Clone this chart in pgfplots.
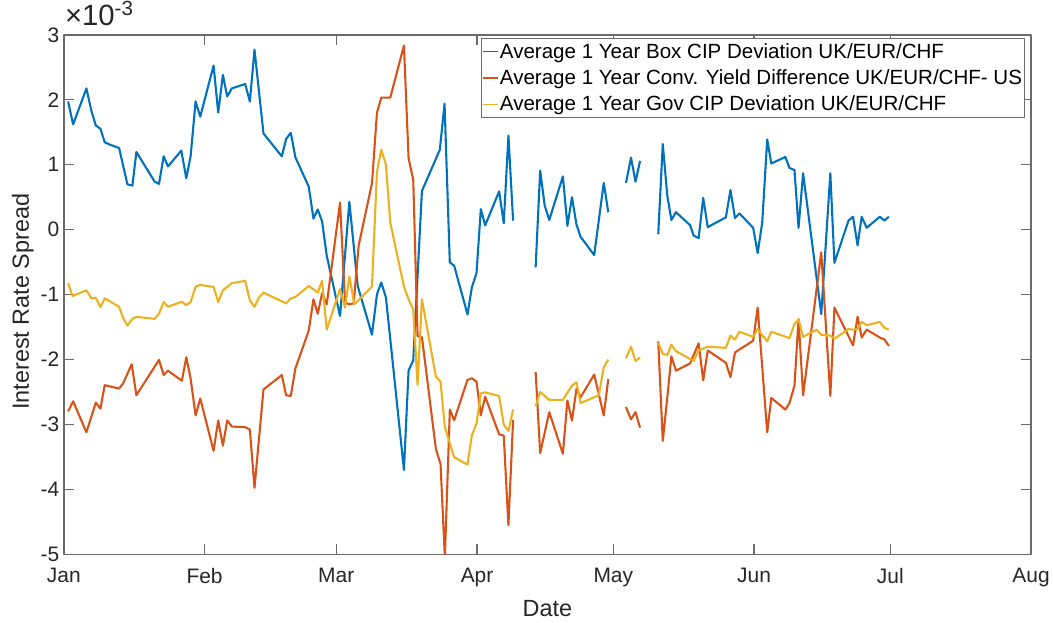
\documentclass[border=0pt]{standalone}
\usepackage{fontspec}
\setmainfont{Liberation Sans}
\usepackage{graphicx}
\usepackage{pgfplots}
\pgfplotsset{compat=1.18}
\definecolor{mblue}{rgb}{0,0.447,0.741}
\definecolor{mred}{rgb}{0.85,0.325,0.098}
\definecolor{myel}{rgb}{0.929,0.694,0.125}
\definecolor{axgray}{rgb}{0.42,0.42,0.42}
\begin{document}
\begin{tikzpicture}
\begin{axis}[name=ax, scale only axis, width=970pt, height=521pt,
  xmin=0, xmax=213, ymin=-5, ymax=3,
  xtick={0,31,60,91,121,152,182,213},
  xticklabels={Jan,Feb,Mar,Apr,May,Jun,Jul,Aug},
  ytick={-5,-4,-3,-2,-1,0,1,2,3},
  yticklabels={-5,-4,-3,-2,-1,0,1,2,3},
  tick label style={font=\fontsize{21}{21}\selectfont, text=black!85},
  yticklabel style={xshift=-1pt},
  xticklabel style={yshift=-10pt},
  major tick length=10pt,
  tick style={axgray, line width=1.2pt},
  axis line style={axgray, line width=1.4pt},
  xlabel={Date}, ylabel={Interest Rate Spread},
  label style={font=\fontsize{23.5}{23.5}\selectfont, text=black!85},
  xlabel style={at={(axis description cs:0.5,0)}, anchor=center, yshift=-54pt},
  ylabel style={at={(axis description cs:0,0.5)}, anchor=center, yshift=41pt, xshift=-7pt},
  title={\scalebox{1.4}{×10\textsuperscript{-3}}},
  title style={at={(axis description cs:0,1)}, anchor=base west, yshift=3pt, xshift=1pt, inner sep=0pt, font=\fontsize{21}{21}\selectfont, text=black!85},
  unbounded coords=jump,
  legend cell align=left,
  legend style={at={(1,1)}, anchor=north east, xshift=-6pt, yshift=-3pt,
    draw=axgray, line width=1pt, font=\fontsize{20.6}{20.6}\selectfont, text=black,
    nodes={inner xsep=1.5pt, inner ysep=2pt}, row sep=6pt, inner xsep=1pt, inner ysep=3pt},
  legend image code/.code={\draw[#1, line width=1.5pt] (0pt,0pt) -- (15pt,0pt);},
  line join=round,
]
\addplot[mblue, line width=2.1pt] coordinates {
(0.95,1.974)(2.05,1.622)(4.98,2.176)(6.08,1.829)(7.04,1.606)(8.06,1.554)(9.01,1.347)(10.11,1.311)(12.17,1.259)(14.0,0.699)(15.1,0.679)(15.98,1.197)(20.0,0.741)(20.96,0.705)(21.99,1.130)(22.94,0.974)(25.87,1.218)(26.97,0.793)(27.92,1.130)(29.02,1.974)(30.05,1.741)(32.98,2.528)(34.0,1.803)(35.03,2.383)(35.98,2.052)(37.0,2.176)(39.94,2.244)(40.97,1.974)(41.99,2.772)(43.97,1.482)(48.0,1.130)(48.96,1.399)(49.98,1.492)(51.0,1.114)(53.94,0.663)(54.97,0.171)(55.92,0.311)(56.87,0.129)(57.9,-0.40)(60.83,-1.33)(62.88,0.43)(64.71,-0.864)(67.86,-1.615)(68.96,-0.994)(69.91,-0.813)(70.94,-1.046)(74.9,-3.70)(75.92,-2.169)(76.95,-2.013)(78.86,0.595)(82.8,1.232)(83.84,1.941)(85.0,-0.502)(85.96,-0.554)(88.9,-1.304)(89.85,-0.890)(90.88,-0.668)(91.83,0.316)(92.79,0.067)(95.86,0.59)(96.88,0.1)(97.91,1.45)(98.94,0.14)
(101,nan)
(103.9,-0.58)(104.9,0.91)(105.9,0.37)(106.9,0.15)(109.9,0.82)(110.9,0.06)(111.9,0.5)(112.9,0.08)(113.8,-0.11)(116.8,-0.39)(118.9,0.72)(119.9,0.27)
(122,nan)
(123.8,0.72)(124.9,1.11)(125.9,0.74)(126.9,1.06)
(129,nan)
(130.9,-0.07)(131.9,1.32)(132.9,0.52)(133.8,0.15)(134.8,0.27)(137.9,0.07)(138.7,-0.09)(139.8,-0.13)(140.8,0.49)(141.8,0.04)(145.8,0.19)(146.8,0.61)(147.8,0.18)(148.8,0.25)(151.8,0.03)(152.8,-0.36)(153.8,0.11)(154.9,1.39)(155.8,1.02)(158.9,1.12)(159.8,0.95)(160.9,0.92)(161.8,0.03)(162.8,0.87)(166.8,-1.3)(168.8,0.87)(169.7,-0.51)(172.8,0.14)(173.8,0.2)(174.8,-0.24)(175.7,0.2)(176.8,0.03)(179.7,0.2)(180.7,0.14)(181.7,0.2)
};
\addlegendentry{Average 1 Year Box CIP Deviation UK/EUR/CHF}
\addplot[mred, line width=2.1pt] coordinates {
(0.95,-2.798)(2.05,-2.642)(4.98,-3.119)(7.04,-2.663)(8.06,-2.756)(9.01,-2.394)(12.17,-2.446)(13.05,-2.368)(14.95,-2.073)(15.98,-2.549)(20.96,-2.005)(21.99,-2.238)(22.94,-2.171)(26.0,-2.326)(26.97,-1.964)(27.92,-2.29)(29.02,-2.86)(30.05,-2.601)(32.98,-3.404)(34.0,-2.938)(35.03,-3.326)(35.98,-2.938)(37.0,-3.031)(39.94,-3.041)(40.97,-3.078)(41.99,-3.974)(43.97,-2.461)(48.0,-2.238)(48.96,-2.549)(49.98,-2.56)(51.0,-2.135)(53.94,-1.553)(54.97,-1.071)(55.92,-1.294)(56.87,-0.978)(57.9,-1.149)(60.83,0.419)(61.93,-1.123)(62.88,-1.149)(63.83,-1.134)(64.93,-0.243)(67.86,0.714)(68.96,1.801)(69.91,2.034)(71.89,2.034)(74.9,2.836)(75.92,1.102)(76.95,0.766)(77.9,-1.641)(78.86,-1.651)(81.93,-3.375)(82.96,-3.608)(83.91,-5.05)(85.01,-2.769)(85.96,-2.935)(88.89,-2.314)(89.85,-2.288)(90.88,-2.34)(91.83,-2.857)(92.79,-2.572)(95.86,-3.15)(96.88,-3.17)(97.91,-4.55)(98.94,-2.93)
(101,nan)
(103.9,-2.19)(104.9,-3.44)(106.9,-2.81)(109.9,-3.45)(110.9,-2.63)(111.9,-2.94)(112.9,-2.45)(113.8,-2.58)(116.8,-2.23)(118.9,-2.86)(119.9,-2.3)
(122,nan)
(123.8,-2.73)(124.9,-2.92)(125.9,-2.81)(126.9,-3.05)
(129,nan)
(130.9,-1.72)(131.9,-3.25)(132.9,-2.58)(133.8,-1.95)(134.8,-2.17)(137.9,-2.06)(139.8,-1.75)(140.8,-2.32)(141.8,-1.86)(145.8,-2.05)(146.8,-2.27)(147.8,-1.89)(151.8,-1.71)(152.8,-1.2)(154.9,-3.12)(155.8,-2.59)(158.9,-2.77)(159.8,-2.67)(160.9,-2.4)(161.8,-1.38)(162.8,-2.55)(166.8,-0.35)(168.8,-2.56)(169.7,-1.2)(173.8,-1.78)(174.8,-1.34)(175.7,-1.66)(176.8,-1.54)(179.7,-1.66)(180.7,-1.69)(181.7,-1.79)
};
\addlegendentry{Average 1 Year Conv. Yield Difference UK/EUR/CHF- US}
\addplot[myel, line width=2.1pt] coordinates {
(0.95,-0.824)(1.9,-1.021)(4.98,-0.933)(6.08,-1.057)(7.04,-1.047)(8.06,-1.192)(9.01,-1.057)(12.17,-1.187)(13.05,-1.358)(14.0,-1.477)(15.1,-1.373)(15.98,-1.342)(20.0,-1.373)(20.96,-1.295)(21.99,-1.114)(22.94,-1.187)(26.0,-1.109)(26.97,-1.161)(27.92,-1.114)(29.02,-0.876)(30.05,-0.85)(32.98,-0.881)(34.0,-1.114)(35.03,-0.933)(37.0,-0.824)(39.94,-0.788)(40.97,-1.088)(41.99,-1.187)(42.94,-1.047)(43.97,-0.969)(48.96,-1.135)(49.98,-1.057)(51.0,-1.036)(53.94,-0.865)(55.92,-0.968)(56.87,-0.787)(57.9,-1.537)(60.83,-0.916)(61.93,-1.201)(62.88,-0.719)(63.98,-1.149)(67.86,-0.875)(68.96,0.895)(69.91,1.232)(70.94,0.999)(71.89,0.109)(74.9,-0.875)(75.92,-1.071)(76.95,-1.227)(77.9,-2.391)(78.86,-1.071)(81.93,-2.262)(82.96,-2.34)(83.91,-3.038)(85.96,-3.504)(88.89,-3.618)(89.85,-3.168)(90.88,-2.986)(91.83,-2.521)(92.79,-2.505)(95.86,-2.56)(96.88,-3.0)(97.91,-3.1)(98.94,-2.77)
(101,nan)
(103.9,-2.72)(104.9,-2.5)(106.9,-2.62)(109.9,-2.62)(111.9,-2.4)(112.9,-2.35)(113.8,-2.67)(116.8,-2.58)(117.8,-2.55)(118.9,-2.12)(119.9,-2.0)
(122,nan)
(123.8,-1.98)(124.9,-1.8)(125.9,-2.02)(126.9,-1.97)
(129,nan)
(130.9,-1.74)(131.9,-1.91)(132.9,-1.93)(133.8,-1.77)(134.8,-1.87)(137.9,-1.99)(138.7,-2.02)(139.8,-1.86)(141.8,-1.8)(145.8,-1.82)(146.8,-1.63)(147.8,-1.69)(148.8,-1.57)(151.8,-1.65)(152.8,-1.53)(154.9,-1.72)(155.8,-1.57)(159.8,-1.67)(160.9,-1.45)(161.8,-1.38)(162.8,-1.65)(165.8,-1.54)(166.8,-1.62)(168.8,-1.63)(169.7,-1.68)(172.8,-1.53)(173.8,-1.54)(174.8,-1.53)(175.7,-1.42)(176.8,-1.47)(179.7,-1.42)(180.7,-1.51)(181.7,-1.54)
};
\addlegendentry{Average 1 Year Gov CIP Deviation UK/EUR/CHF}
\end{axis}
\path ([xshift=-64pt,yshift=-68pt]ax.south west) rectangle ([xshift=19pt,yshift=35pt]ax.north east);
\end{tikzpicture}
\end{document}
